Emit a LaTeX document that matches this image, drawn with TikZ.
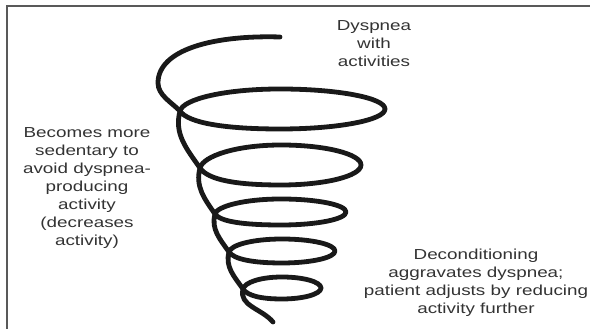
\documentclass[tikz,border=0pt]{standalone}
\usepackage{fontspec}
\setmainfont{Liberation Sans}[FakeStretch=1.3]

\begin{document}
\begin{tikzpicture}[x=1pt,y=1pt,
  coil/.style={draw=black!90,line width=4.8pt,line cap=round,line join=round},
  frame/.style={draw=black!65,line width=1.3pt},
  note/.style={font=\fontsize{14.5}{18}\selectfont,text=black!80,align=center,inner sep=0pt}]

\useasboundingbox (0,0) rectangle (590,329);

% Frame lines along the top and left edges.
\draw[frame] (7,0) -- (7,323) -- (590,323);

% Top strand of the coil, down into the first crossing.
\coordinate (start) at (280,292);
\coordinate (x1) at (180,218);
\draw[coil] (start) .. controls (215,294) and (158,280) .. (158,246)
  .. controls (158,234) and (171,227) .. (x1);

% Loops: crossing / centre / radii / next crossing / entry angle there.
\foreach \px/\py/\cx/\cy/\rx/\ry/\qx/\qy/\qin in
  {180/218/280/220/105/20/200/161/125,
   200/161/281/164/80/20/215/115/125,
   215/115/281/117/65/13/229/77/125,
   229/77/282/78/53/12/243/40/125,
   243/40/282/41/39/11/273/7/130}
{
  \draw[coil] (\px,\py) .. controls ({\px+0.4*\ry},{\py-0.6*\ry})
      and ({\cx-0.55*(\cx-\px)},{\cy-\ry}) .. (\cx,{\cy-\ry})
    arc[start angle=-90,end angle=90,x radius=\rx,y radius=\ry]
    .. controls ({\cx-0.55*(\cx-\px)},{\cy+\ry})
      and ({\px+0.15*\ry},{\py+0.6*\ry}) .. (\px,\py)
    to[out=255,in=\qin] (\qx,\qy);
}

% Labels.
\node[note] (activities) at (374,285) {Dyspnea\\with\\activities};
\node[note] (sedentary) at (87,141)
  {Becomes more\\sedentary to\\avoid dyspnea-\\producing\\activity\\(decreases\\activity)};
\node[note] (decondition) at (476,46)
  {Deconditioning\\aggravates dyspnea;\\patient adjusts by reducing\\activity further};
\end{tikzpicture}
\end{document}
